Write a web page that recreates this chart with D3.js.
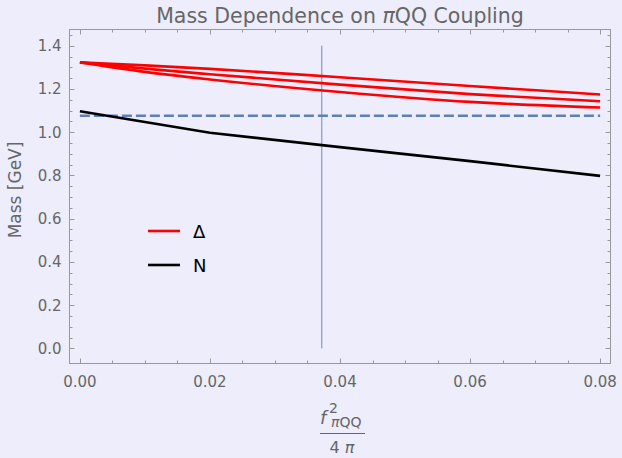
<!DOCTYPE html>
<html>
<head>
<meta charset="utf-8">
<script src="https://d3js.org/d3.v7.min.js"></script>
<style>
  html, body { margin: 0; padding: 0; background: #ededfc; }
  svg { display: block; font-family: "DejaVu Sans", sans-serif; }
</style>
</head>
<body>
<script>
// data
var couplings = [0, 0.01, 0.02, 0.04, 0.06, 0.08];
var deltaUpper = [1.323, 1.309, 1.293, 1.254, 1.214, 1.174];
var deltaMiddle = [1.323, 1.294, 1.268, 1.220, 1.176, 1.143];
var deltaLower = [1.323, 1.279, 1.244, 1.186, 1.140, 1.114];
var nucleon = [1.097, 1.047, 0.997, 0.931, 0.866, 0.798];
var referenceMass = 1.076;   // dashed line
var markedCoupling = 0.0372; // vertical line
var xTicks = [0, 0.02, 0.04, 0.06, 0.08];
var yTicks = [0, 0.2, 0.4, 0.6, 0.8, 1.0, 1.2, 1.4];

var W = 622, H = 458;
var frame = {left: 69.5, right: 610.5, top: 29.5, bottom: 363.5};

var x = d3.scaleLinear().domain([-0.0016, 0.0816]).range([frame.left, frame.right]);
var y = d3.scaleLinear().domain([-0.07, 1.475]).range([frame.bottom, frame.top]);

var svg = d3.select("body").append("svg")
    .attr("width", W)
    .attr("height", H);

svg.append("rect")
    .attr("width", W).attr("height", H)
    .attr("fill", "#ededfc");

var grey = "#999999", textGrey = "#666666";

// frame
svg.append("rect")
    .attr("x", frame.left).attr("y", frame.top)
    .attr("width", frame.right - frame.left)
    .attr("height", frame.bottom - frame.top)
    .attr("fill", "none")
    .attr("stroke", grey)
    .attr("stroke-width", 1);

// ticks (inward on all four sides)
var xMinor = d3.range(0, 0.0801, 0.005);
var yMinor = d3.range(0, 1.4501, 0.05);
var tickG = svg.append("g").attr("stroke", grey).attr("stroke-width", 1);

xMinor.forEach(function(v, i) {
  var len = (i % 4 === 0) ? 5 : 3;
  var px = Math.round(x(v)) + 0.5;
  tickG.append("line").attr("x1", px).attr("x2", px)
    .attr("y1", frame.bottom).attr("y2", frame.bottom - len);
  tickG.append("line").attr("x1", px).attr("x2", px)
    .attr("y1", frame.top).attr("y2", frame.top + len);
});
yMinor.forEach(function(v, i) {
  var len = (i % 4 === 0) ? 5 : 3;
  var py = Math.round(y(v)) + 0.5;
  tickG.append("line").attr("y1", py).attr("y2", py)
    .attr("x1", frame.left).attr("x2", frame.left + len);
  tickG.append("line").attr("y1", py).attr("y2", py)
    .attr("x1", frame.right).attr("x2", frame.right - len);
});

// tick labels
svg.append("g").selectAll("text")
  .data(xTicks).enter().append("text")
    .attr("x", function(d) { return x(d); })
    .attr("y", frame.bottom + 23)
    .attr("text-anchor", "middle")
    .attr("fill", textGrey)
    .style("font-size", "15px")
    .text(function(d) { return d3.format(".2f")(d); });

svg.append("g").selectAll("text")
  .data(yTicks).enter().append("text")
    .attr("x", frame.left - 8)
    .attr("y", function(d) { return y(d) + 5.5; })
    .attr("text-anchor", "end")
    .attr("fill", textGrey)
    .style("font-size", "15px")
    .text(function(d) { return d3.format(".1f")(d); });

// vertical marker
svg.append("line")
    .attr("x1", x(markedCoupling)).attr("x2", x(markedCoupling))
    .attr("y1", y(1.4)).attr("y2", y(0))
    .attr("stroke", "#6a8cc0")
    .attr("stroke-width", 1);

// dashed reference
svg.append("line")
    .attr("x1", x(0)).attr("x2", x(0.08))
    .attr("y1", y(referenceMass)).attr("y2", y(referenceMass))
    .attr("stroke", "#5e81b5")
    .attr("stroke-width", 2.6)
    .attr("stroke-dasharray", "10,4");

var line = d3.line()
    .x(function(d) { return x(d[0]); })
    .y(function(d) { return y(d[1]); })
    .curve(d3.curveMonotoneX);

[deltaUpper, deltaMiddle, deltaLower].forEach(function(s) {
  svg.append("path")
      .datum(couplings.map(function(c, i) { return [c, s[i]]; }))
      .attr("d", line)
      .attr("fill", "none")
      .attr("stroke", "#ff0000")
      .attr("stroke-width", 2.6);
});

svg.append("path")
    .datum(couplings.map(function(c, i) { return [c, nucleon[i]]; }))
    .attr("d", line.curve(d3.curveLinear))
    .attr("fill", "none")
    .attr("stroke", "#000000")
    .attr("stroke-width", 2.6);

// legend
var legend = [{label: "\u0394", color: "#ff0000"}, {label: "N", color: "#000000"}];
legend.forEach(function(d, i) {
  var ly = 231 + i * 34;
  svg.append("line")
      .attr("x1", 148).attr("x2", 180)
      .attr("y1", ly).attr("y2", ly)
      .attr("stroke", d.color)
      .attr("stroke-width", 2.6);
  svg.append("text")
      .attr("x", 193).attr("y", ly + 7)
      .attr("fill", "#000")
      .style("font-size", "18px")
      .text(d.label);
});

// title
var title = svg.append("text")
    .attr("x", 340).attr("y", 23)
    .attr("text-anchor", "middle")
    .attr("fill", textGrey)
    .style("font-size", "20.5px");
title.append("tspan").text("Mass Dependence on ");
title.append("tspan").style("font-style", "italic").text("\u03c0");
title.append("tspan").text("QQ Coupling");

// y label
svg.append("text")
    .attr("transform", "translate(21," + 190 + ") rotate(-90)")
    .attr("text-anchor", "middle")
    .attr("fill", textGrey)
    .style("font-size", "17px")
    .text("Mass [GeV]");

// x label: f^2_{piQQ} / 4 pi
var xl = svg.append("g").attr("fill", textGrey);
xl.append("text").attr("x", 320).attr("y", 424)
    .style("font-size", "18px").style("font-style", "italic").text("f");
xl.append("text").attr("x", 329).attr("y", 413)
    .style("font-size", "14px").text("2");
var sub = xl.append("text").attr("x", 331).attr("y", 427)
    .style("font-size", "14px");
sub.append("tspan").style("font-style", "italic").text("\u03c0");
sub.append("tspan").text("QQ");
xl.append("line")
    .attr("x1", 320).attr("x2", 365)
    .attr("y1", 433.5).attr("y2", 433.5)
    .attr("stroke", textGrey).attr("stroke-width", 1);
var den = xl.append("text").attr("x", 342).attr("y", 453)
    .attr("text-anchor", "middle")
    .style("font-size", "16px");
den.append("tspan").text("4 ");
den.append("tspan").style("font-style", "italic").text("\u03c0");
</script>
</body>
</html>
